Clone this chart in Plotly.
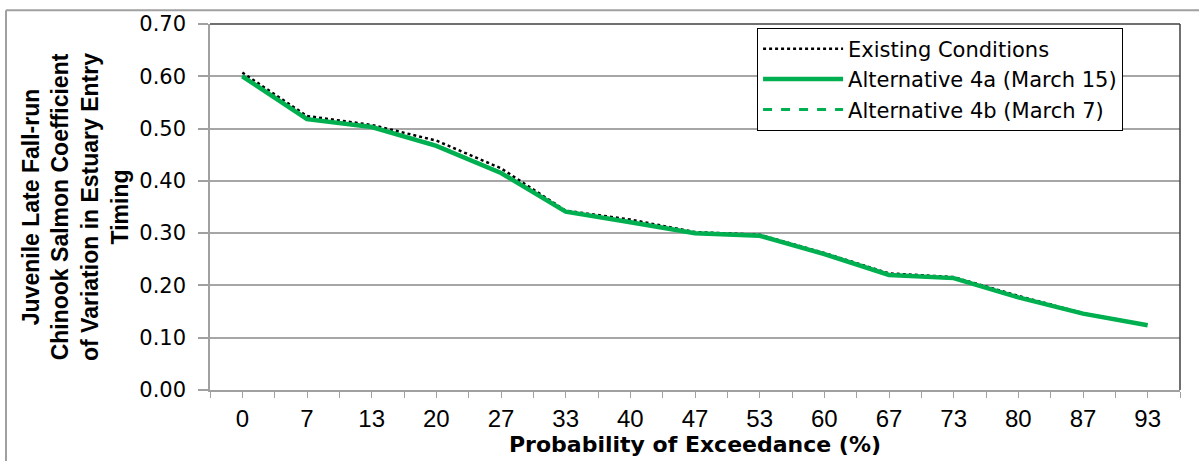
import plotly.graph_objects as go

x_labels = ["0", "7", "13", "20", "27", "33", "40", "47", "53", "60", "67", "73", "80", "87", "93"]
existing = [0.607, 0.524, 0.507, 0.477, 0.424, 0.343, 0.326, 0.302, 0.297, 0.262, 0.223, 0.216, 0.180, 0.147, 0.124]
alt_4a = [0.600, 0.518, 0.503, 0.467, 0.415, 0.341, 0.321, 0.300, 0.295, 0.260, 0.220, 0.214, 0.177, 0.146, 0.124]
alt_4b = [0.601, 0.519, 0.503, 0.468, 0.416, 0.341, 0.322, 0.300, 0.295, 0.260, 0.220, 0.214, 0.177, 0.146, 0.124]
y_ticks = [0.0, 0.1, 0.2, 0.3, 0.4, 0.5, 0.6, 0.7]

xi = list(range(len(x_labels)))
GREEN = "#00B050"
FONT = "Liberation Sans, Arial, sans-serif"
WIDE = "DejaVu Sans, Verdana, sans-serif"

fig = go.Figure()
fig.add_trace(go.Scatter(x=xi, y=existing, mode="lines", name="Existing Conditions",
                         line=dict(color="#000000", width=2.5, dash="dot")))
fig.add_trace(go.Scatter(x=xi, y=alt_4a, mode="lines", name="Alternative 4a (March 15)",
                         line=dict(color=GREEN, width=4.5)))
fig.add_trace(go.Scatter(x=xi, y=alt_4b, mode="lines", name="Alternative 4b (March 7)",
                         line=dict(color=GREEN, width=3, dash="dash")))

fig.update_layout(
    width=1199, height=461,
    margin=dict(l=210, r=19, t=19, b=68),
    paper_bgcolor="white", plot_bgcolor="white",
    font=dict(family=FONT, color="#000000", size=21),
    showlegend=True,
    legend=dict(x=0.564, y=0.99, xanchor="left", yanchor="top",
                bgcolor="white", bordercolor="#000000", borderwidth=1,
                font=dict(size=21, family=WIDE), itemwidth=80, tracegroupgap=0),
    xaxis=dict(
        range=[-0.5, len(x_labels) - 0.5],
        tickmode="array", tickvals=xi, ticktext=x_labels,
        ticks="outside", ticklen=6, tickcolor="#a0a0a0", tickwidth=1,
        minor=dict(ticks="outside", ticklen=6, tickcolor="#a0a0a0", tick0=-0.5, dtick=1, showgrid=False),
        showline=True, linecolor="#a0a0a0", linewidth=1.5,
        showgrid=False, zeroline=False,
        tickfont=dict(size=24, family=FONT),
        title=dict(text="<b>Probability of Exceedance (%)</b>", font=dict(size=22, family=WIDE), standoff=2),
    ),
    yaxis=dict(
        range=[0, 0.7],
        tickmode="array", tickvals=y_ticks, tickformat=".2f",
        ticks="outside", ticklen=10, tickcolor="#a0a0a0", tickwidth=1.5,
        showline=True, linecolor="#a0a0a0", linewidth=1.5,
        showgrid=True, gridcolor="#a6a6a6", gridwidth=1.5, zeroline=False,
        tickfont=dict(size=21, family=WIDE),
        ticklabelstandoff=8,
        title=dict(text="<b>Juvenile Late Fall-run<br>Chinook Salmon Coefficient<br>of Variation in Estuary Entry<br>Timing</b>",
                   font=dict(size=23, family=FONT), standoff=4),
    ),
)

# plot-area border on top and right
fig.add_shape(type="line", xref="x domain", yref="y domain", x0=0, x1=1, y0=1, y1=1,
              line=dict(color="#404040", width=1.5), layer="above")
fig.add_shape(type="line", xref="x domain", yref="y domain", x0=1, x1=1, y0=0, y1=1,
              line=dict(color="#404040", width=1.5), layer="above")
# outer chart border (top and left visible)
fig.add_shape(type="line", xref="paper", yref="paper", x0=-204/970, x1=1.1, y0=1 + 14/374, y1=1 + 14/374,
              line=dict(color="#a0a0a0", width=2))
fig.add_shape(type="line", xref="paper", yref="paper", x0=-204/970, x1=-204/970, y0=-0.3, y1=1 + 14/374,
              line=dict(color="#a0a0a0", width=2))

fig.write_html("out.html")
